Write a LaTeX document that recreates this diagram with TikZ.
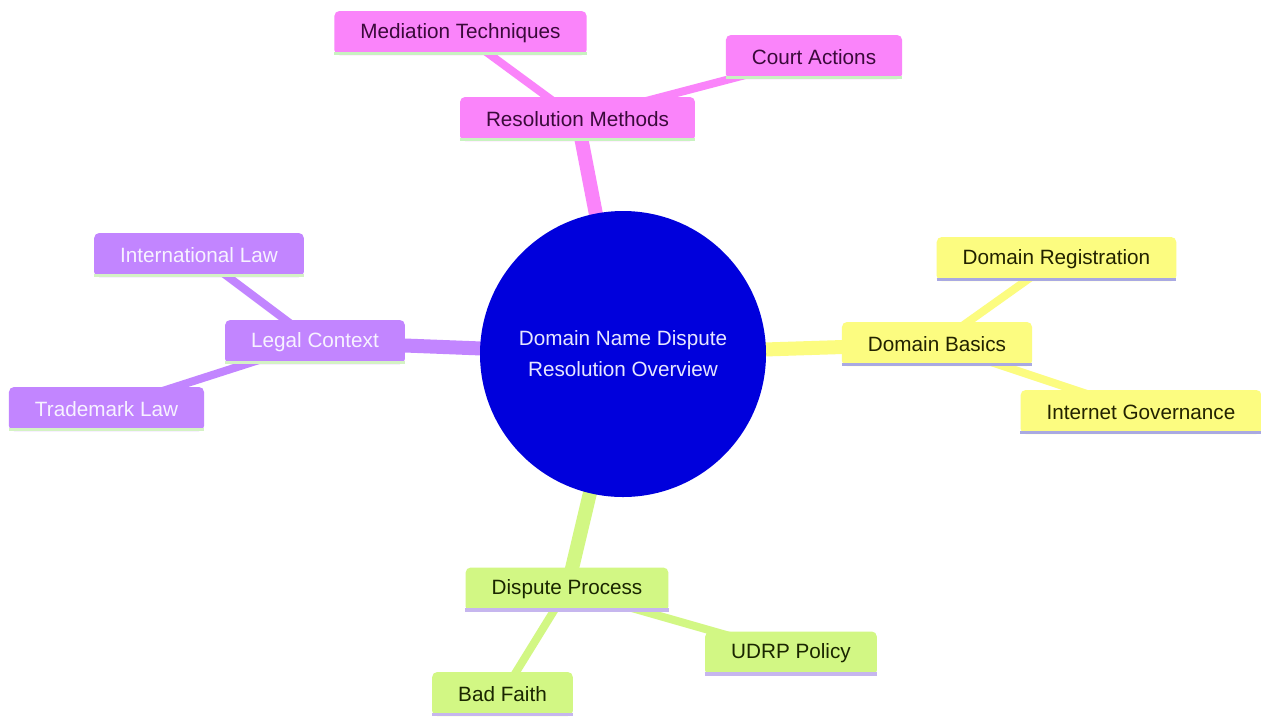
\documentclass[tikz,border=0pt]{standalone}
\usepackage{fontspec}
\setmainfont{Liberation Sans}
\pgfdeclarelayer{bg}
\pgfsetlayers{bg,main}
\definecolor{pinkf}{HTML}{FA84FA}
\definecolor{purplef}{HTML}{C285FF}
\definecolor{yellowf}{HTML}{FCFC80}
\definecolor{greenf}{HTML}{D2F784}
\definecolor{pinkbar}{HTML}{C8F2C0}
\definecolor{purplebar}{HTML}{D4F2C4}
\definecolor{yellowbar}{HTML}{A9A9E2}
\definecolor{greenbar}{HTML}{C6B6EE}
\definecolor{pinkt}{HTML}{3A0A3A}
\definecolor{purplet}{HTML}{F7F2FF}
\definecolor{yellowt}{HTML}{222200}
\definecolor{greent}{HTML}{1A2600}
\definecolor{centerf}{HTML}{0000DC}
\definecolor{centert}{HTML}{E6E6FF}
\tikzset{
  mmbox/.style={rectangle, rounded corners=5pt, inner xsep=26pt, inner ysep=2pt,
    minimum height=44pt, font=\fontsize{20.7}{24}\selectfont},
  pinkbox/.style={mmbox, fill=pinkf, text=pinkt},
  purplebox/.style={mmbox, fill=purplef, text=purplet},
  yellowbox/.style={mmbox, fill=yellowf, text=yellowt},
  greenbox/.style={mmbox, fill=greenf, text=greent},
  mmbar/.style={line width=3.5pt},
  mainedge/.style={line width=14pt},
  leafedge/.style={line width=8pt},
  centernode/.style={circle, fill=centerf, text=centert, minimum size=286pt,
    align=center, inner sep=0pt, font=\fontsize{20.7}{31}\selectfont}
}
\newcommand{\mmbarline}[2]{\draw[mmbar,#2] ([yshift=1.75pt]#1.south west) -- ([yshift=1.75pt]#1.south east);}
\begin{document}
\begin{tikzpicture}[x=1pt,y=-1pt]
\useasboundingbox (0,0) rectangle (1261,716);

\node[centernode] (c) at (623,354) {Domain Name Dispute\\Resolution Overview};

\node[pinkbox] (rm) at (577.5,119) {Resolution Methods};
\node[pinkbox] (med) at (460.5,33) {Mediation Techniques};
\node[pinkbox] (ca) at (814,57) {Court Actions};

\node[purplebox] (lc) at (315,342) {Legal Context};
\node[purplebox] (il) at (199,255) {International Law};
\node[purplebox] (tl) at (106.5,409) {Trademark Law};

\node[yellowbox] (db) at (937,344) {Domain Basics};
\node[yellowbox] (dr) at (1056.5,259) {Domain Registration};
\node[yellowbox] (ig) at (1141,412) {Internet Governance};

\node[greenbox] (dp) at (567,589.5) {Dispute Process};
\node[greenbox] (up) at (791,653.5) {UDRP Policy};
\node[greenbox] (bf) at (502.5,694) {Bad Faith};

\mmbarline{rm}{pinkbar}
\mmbarline{med}{pinkbar}
\mmbarline{ca}{pinkbar}
\mmbarline{lc}{purplebar}
\mmbarline{il}{purplebar}
\mmbarline{tl}{purplebar}
\mmbarline{db}{yellowbar}
\mmbarline{dr}{yellowbar}
\mmbarline{ig}{yellowbar}
\mmbarline{dp}{greenbar}
\mmbarline{up}{greenbar}
\mmbarline{bf}{greenbar}

\begin{pgfonlayer}{bg}
\fill[white] (0,0) rectangle (1261,716);
\draw[mainedge, pinkf] (c.center) -- (rm.center);
\draw[leafedge, pinkf] (rm.center) -- (med.center);
\draw[leafedge, pinkf] (rm.center) -- (ca.center);
\draw[mainedge, purplef] (c.center) -- (lc.center);
\draw[leafedge, purplef] (lc.center) -- (il.center);
\draw[leafedge, purplef] (lc.center) -- (tl.center);
\draw[mainedge, yellowf] (c.center) -- (db.center);
\draw[leafedge, yellowf] (db.center) -- (dr.center);
\draw[leafedge, yellowf] (db.center) -- (ig.center);
\draw[mainedge, greenf] (c.center) -- (dp.center);
\draw[leafedge, greenf] (dp.center) -- (up.center);
\draw[leafedge, greenf] (dp.center) -- (bf.center);
\end{pgfonlayer}
\end{tikzpicture}
\end{document}
